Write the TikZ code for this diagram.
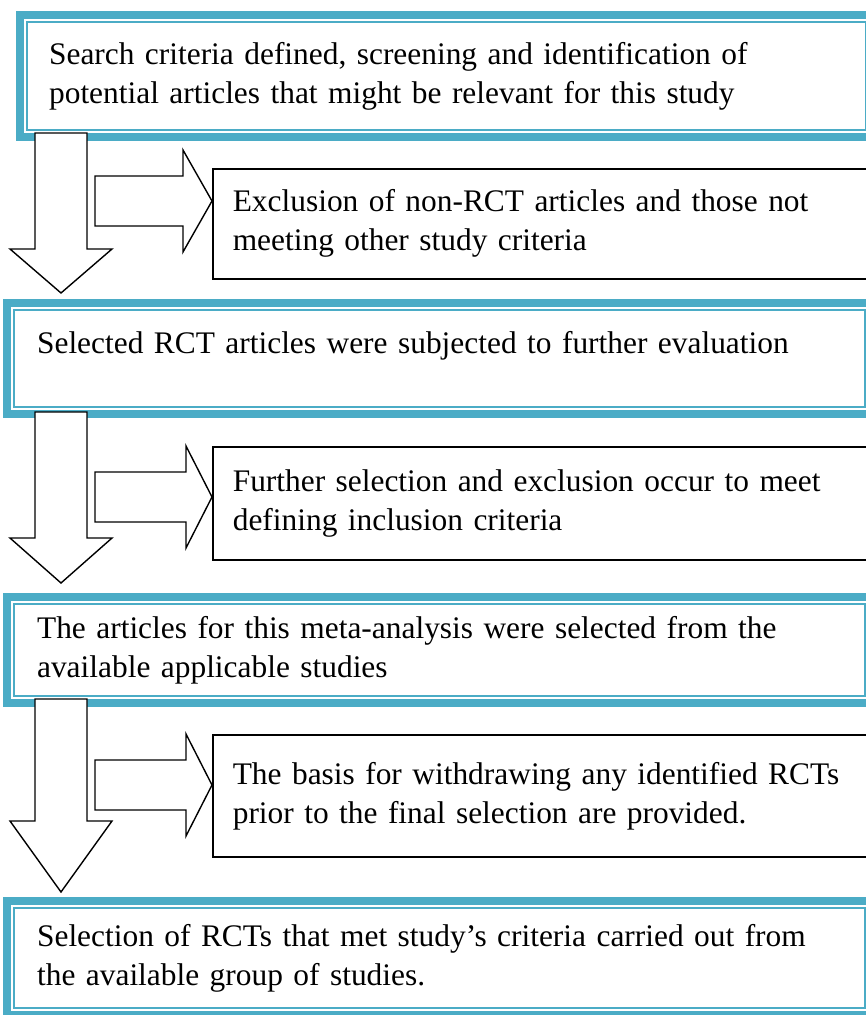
\documentclass[tikz,border=0pt]{standalone}
\usepackage{fontspec}
\setmainfont{Liberation Serif}
\usepackage{tikz}
\definecolor{stageblue}{HTML}{4BACC6}
\tikzstyle{stage} = [rectangle, draw=stageblue, line width=2.2pt, fill=white,
                 anchor=north west, align=left, inner xsep=22pt, inner ysep=0pt,
                 font=\fontsize{31.4}{39}\selectfont,
                 preaction={draw=stageblue, line width=22pt},
                 preaction={draw=white, line width=6pt}]
\tikzstyle{exclude} = [rectangle, draw=black, line width=1.6pt, fill=white,
                 anchor=north west, align=left, inner xsep=20pt, inner ysep=0pt,
                 minimum width=668pt, text width=628pt,
                 font=\fontsize{31.4}{39}\selectfont]
\tikzstyle{fatarrow} = [draw=black, fill=white, line width=1.4pt, line join=miter]
\newcommand{\fatdown}[3]{\draw[fatarrow] (35,#1) -- (35,#2) -- (10,#2) -- (61,#3)
  -- (112,#2) -- (87,#2) -- (87,#1) -- cycle;}
\newcommand{\fatright}[2]{\draw[fatarrow] (95,#1-25) -- (#2,#1-25) -- (#2,#1-51)
  -- (212,#1) -- (#2,#1+51) -- (#2,#1+25) -- (95,#1+25) -- cycle;}
\begin{document}
\begin{tikzpicture}[x=1pt, y=-1pt]
\useasboundingbox (0,0) rectangle (866,1015);
\clip (0,0) rectangle (866,1015);

% main stages
\node [stage, minimum width=839pt, minimum height=108pt, text width=795pt] at (26,21) (search)
  {Search criteria defined, screening and identification of\\potential articles that might be relevant for this study};
\node [stage, minimum width=851pt, minimum height=97pt, text width=805pt, inner xsep=23pt] at (13,309) (selected)
  {Selected RCT articles were subjected to further evaluation\\[-18pt]\strut};
\node [stage, minimum width=851pt, minimum height=92pt, text width=805pt, inner xsep=23pt] at (13,603) (articles)
  {The articles for this meta-analysis were selected from the\\available applicable studies};
\node [stage, minimum width=851pt, minimum height=100pt, text width=805pt, inner xsep=23pt] at (13,907) (final)
  {Selection of RCTs that met study’s criteria carried out from\\the available group of studies.};

% side boxes
\node [exclude, minimum height=110pt] at (212,168) (exclA)
  {Exclusion of non-RCT articles and those not\\meeting other study criteria};
\node [exclude, minimum height=113pt] at (212,446) (exclB)
  {Further selection and exclusion occur to meet\\defining inclusion criteria};
\node [exclude, minimum height=122pt] at (212,734) (exclC)
  {The basis for withdrawing any identified RCTs\\prior to the final selection are provided.};

% block arrows
\fatdown{133}{249}{293}
\fatdown{412}{538}{583}
\fatdown{699}{821}{892}
\fatright{201}{183}
\fatright{497}{186}
\fatright{785}{186}

\end{tikzpicture}
\end{document}
